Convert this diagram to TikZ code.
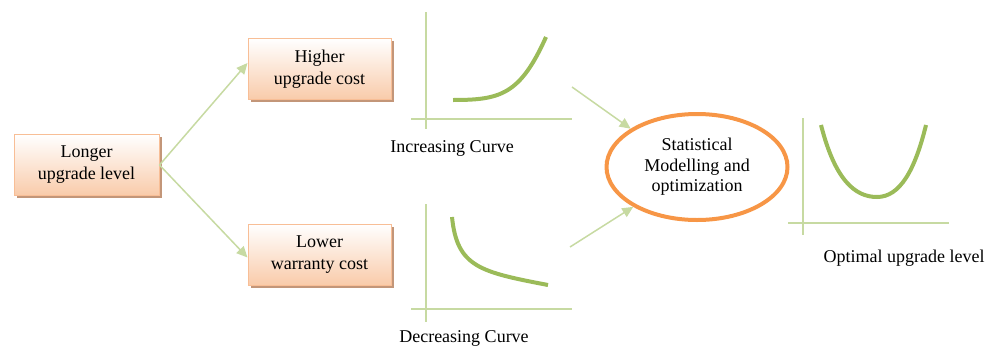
\documentclass[tikz,border=0pt]{standalone}
\usepackage{fontspec}
\setmainfont{Liberation Serif}
\usetikzlibrary{arrows.meta,shapes.geometric,shadows}
\definecolor{peachtop}{HTML}{FFFFFF}
\definecolor{peachbot}{HTML}{F9CBAA}
\definecolor{peachline}{HTML}{F8BE96}
\definecolor{boxshadow}{HTML}{B98462}
\definecolor{lightgreen}{HTML}{C7DAA2}
\definecolor{curvegreen}{HTML}{9BBB59}
\definecolor{ringorange}{HTML}{F79646}
\tikzset{
  txt/.style={font=\fontsize{18}{22}\selectfont, align=center, inner sep=0pt},
  stepbox/.style={txt, draw=peachline, line width=1pt,
    top color=peachtop, bottom color=peachbot,
    drop shadow={shadow xshift=2.5pt, shadow yshift=-2.5pt, fill=boxshadow, opacity=0.85},
    minimum width=145pt, minimum height=61pt},
  flow/.style={draw=lightgreen, line width=1.5pt,
    -{Triangle[length=11pt,width=10pt]}},
  axis/.style={draw=lightgreen, line width=1.8pt},
  trend/.style={draw=curvegreen, line width=4pt},
  ring/.style={txt, ellipse, draw=ringorange, line width=4pt,
    minimum width=181pt, minimum height=106pt,
    font=\fontsize{18}{20.5}\selectfont},
}
\begin{document}
\begin{tikzpicture}[x=1pt, y=-1pt]
\useasboundingbox (0,0) rectangle (998,351);

% boxes
\node[stepbox] (longer) at (86.5,165) {Longer\\upgrade level};
\node[stepbox, minimum width=143pt] (higher) at (319.5,69) {Higher\\upgrade cost};
\node[stepbox, minimum width=143pt] (lower) at (319.5,254.5) {Lower\\warranty cost};

% branching arrows
\draw[flow] (longer.east) -- ([yshift=6pt]higher.west);
\draw[flow] (longer.east) -- ([yshift=-3pt]lower.west);

% increasing curve chart
\coordinate (incTop) at (426,12);
\coordinate (incBot) at (426,129);
\coordinate (incL) at (411,119);
\coordinate (incR) at (572,119);
\draw[axis] (incTop) -- (incBot);
\draw[axis] (incL) -- (incR);
\draw[trend] (453,100) .. controls (500,100) and (520,95) .. (546,37);
\node[txt] (inclabel) at (452,148) {Increasing Curve};

% decreasing curve chart
\coordinate (decTop) at (426,204);
\coordinate (decBot) at (426,322);
\coordinate (decL) at (411,309);
\coordinate (decR) at (572,309);
\draw[axis] (decTop) -- (decBot);
\draw[axis] (decL) -- (decR);
\draw[trend] (452,217) .. controls (457,267) and (480,272) .. (548,285);
\node[txt] (declabel) at (464,338) {Decreasing Curve};

% model ellipse
\node[ring] (model) at (697,167) {Statistical\\Modelling and\\optimization};

\coordinate (incOut) at (572,87);
\coordinate (decOut) at (570,247);
\draw[flow] (incOut) -- (model.150);
\draw[flow] (decOut) -- (model.212);

% optimal chart
\coordinate (optTop) at (803,118);
\coordinate (optBot) at (803,235);
\coordinate (optL) at (788,223);
\coordinate (optR) at (949,223);
\draw[axis] (optTop) -- (optBot);
\draw[axis] (optL) -- (optR);
\draw[trend] (821,125) .. controls (835,180) and (855,197) .. (877,197)
  .. controls (900,197) and (915,170) .. (926,125);
\node[txt] (optlabel) at (904,258) {Optimal upgrade level};
\end{tikzpicture}
\end{document}
